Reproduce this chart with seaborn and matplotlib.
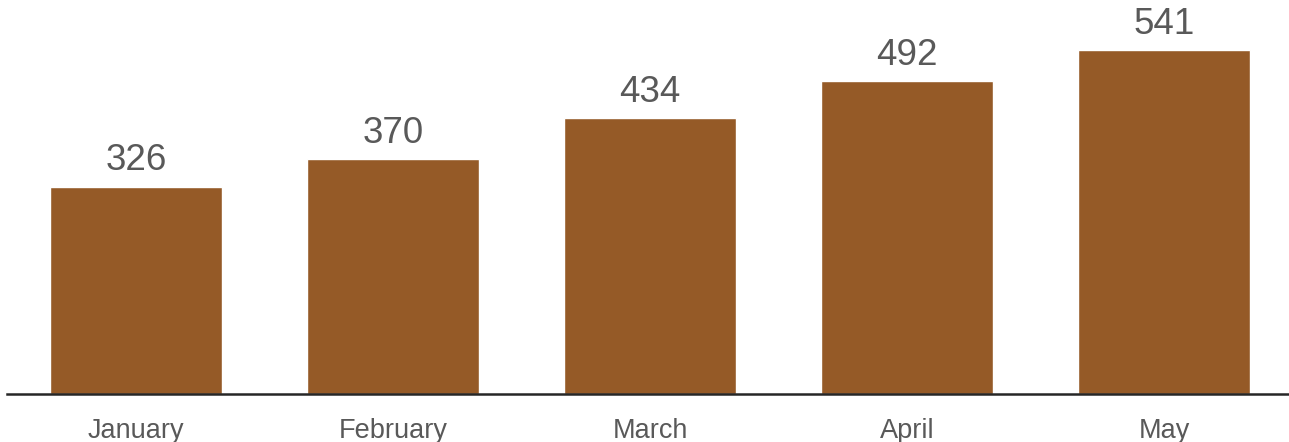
import matplotlib
matplotlib.use("Agg")
import matplotlib.pyplot as plt
import seaborn as sns
import pandas as pd

months = ["January", "February", "March", "April", "May"]
values = [326, 370, 434, 492, 541]

sns.set_theme(style="white")
plt.rcParams['font.family'] = ['Liberation Sans', 'DejaVu Sans']

df = pd.DataFrame({"month": months, "value": values})

fig = plt.figure(figsize=(12.89, 4.42), dpi=100)
ax = fig.add_axes([7/1289, 48/442, 1282/1289, 394/442])
sns.barplot(data=df, x="month", y="value", color="#955A27", saturation=1,
            width=0.67, ax=ax)

for i, v in enumerate(values):
    ax.annotate(str(v), (i, v), xytext=(0, 6), textcoords="offset points",
                ha="center", va="bottom", fontsize=26.5, color="#595959")

ax.set_xlim(-0.502, 4.486)
ax.set_ylim(0, 620)
ax.set_xlabel("")
ax.set_ylabel("")
ax.set_yticks([])
for s in ["top", "right", "left"]:
    ax.spines[s].set_visible(False)
ax.spines["bottom"].set_color("#262626")
ax.spines["bottom"].set_linewidth(1.8)
ax.tick_params(axis="x", length=0, pad=17, labelsize=19.5, labelcolor="#595959")

fig.savefig("out.png", dpi=100)
